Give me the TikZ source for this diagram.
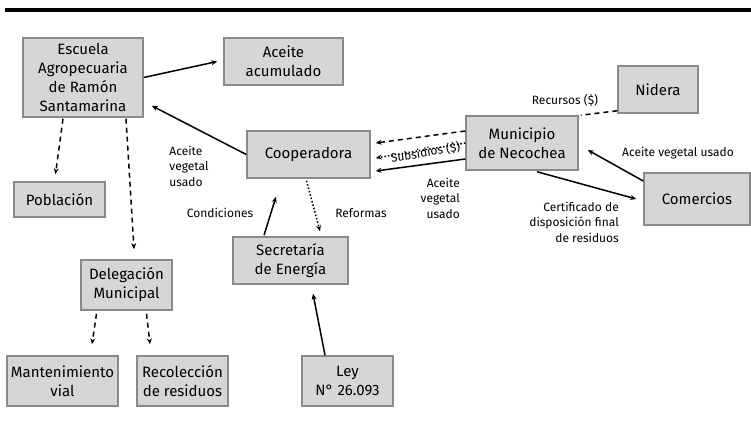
\documentclass[tikz,border=0pt]{standalone}
\usepackage{fontspec}
\setmainfont{Fira Sans}
\usetikzlibrary{arrows.meta}
\definecolor{boxfill}{HTML}{D6D6D8}
\definecolor{boxline}{HTML}{8A8A8A}
\begin{document}
\begin{tikzpicture}[x=1pt,y=-1pt,
    box/.style={draw=boxline,line width=1.5pt,fill=boxfill,align=center,inner sep=0pt,
      font=\fontsize{15}{19}\selectfont},
    lbl/.style={inner sep=0pt,font=\fontsize{12}{15.5}\selectfont},
    dashedline/.style={dash pattern=on 5pt off 4pt},
    dottedline/.style={dash pattern=on 1.5pt off 2pt}]
  \useasboundingbox (0,0) rectangle (751,435);
  \draw[line width=3.5pt] (5,10) -- (751,10);
  \path
    (83,77.5) node[box,minimum width=120,minimum height=79] (esc) {Escuela\\Agropecuaria\\de Ramón\\Santamarina}
    (283.5,61.5) node[box,minimum width=119,minimum height=47] (acu) {Aceite\\acumulado}
    (308.5,154.5) node[box,minimum width=123,minimum height=47] (coop) {Cooperadora}
    (59.5,199.5) node[box,minimum width=91,minimum height=35] (pob) {Población}
    (126.5,285) node[box,minimum width=91,minimum height=50] (dele) {Delegación\\Municipal}
    (62.5,381) node[box,minimum width=111,minimum height=50] (mant) {Mantenimiento\\vial}
    (182.5,381) node[box,minimum width=91,minimum height=50] (reco) {Recolección\\de residuos}
    (290.5,260.5) node[box,minimum width=115,minimum height=47] (sec) {Secretaría\\de Energía}
    (347.5,381) node[box,minimum width=91,minimum height=50] (ley) {Ley\\N° 26.093}
    (658,89.5) node[box,minimum width=80,minimum height=47] (nid) {Nidera}
    (522,143) node[box,minimum width=112,minimum height=54] (mun) {Municipio\\de Necochea}
    (697,199) node[box,minimum width=106,minimum height=52] (com) {Comercios};
  \path
    (189,166) node[lbl,align=left] (usado1) {Aceite\\vegetal\\usado}
    (220,213) node[lbl] (cond) {Condiciones}
    (361,213) node[lbl] (refo) {Reformas}
    (565,100) node[lbl] (recu) {Recursos (\$)}
    (460,198) node[lbl,align=right,anchor=east] (usado2) {Aceite\\vegetal\\usado}
    (678,153) node[lbl] (usado3) {Aceite vegetal usado}
    (619,222) node[lbl,align=right,anchor=east] (certi) {Certificado de\\disposición final\\de residuos};
  \begin{scope}[-{Stealth[length=6pt,width=5pt]},line width=1.5pt]
    \draw (esc.east) -- ([shift={(-6,0)}]acu.west);
    \draw (coop.west) -- ([shift={(8,-12)}]esc.south east);
    \draw[dashedline] ([shift={(-20,1)}]esc.south) -- ([shift={(-4,-7)}]pob.north);
    \draw[dashedline] ([shift={(43,1)}]esc.south) -- ([shift={(7.5,-10)}]dele.north);
    \draw[dashedline] ([shift={(-30,3)}]dele.south) -- ([shift={(29.5,-11)}]mant.north);
    \draw[dashedline] ([shift={(20,3)}]dele.south) -- ([shift={(-32.5,-11)}]reco.north);
    \draw[dottedline] ([shift={(-2,2)}]coop.south) -- ([shift={(29.5,-5)}]sec.north);
    \draw ([shift={(-26.5,-1)}]sec.north) -- ([shift={(-32.5,18)}]coop.south);
    \draw ([shift={(-22.5,0)}]ley.north) -- ([shift={(22.5,9)}]sec.south);
    \draw[dashedline] ([shift={(0,-12)}]mun.west) -- ([shift={(5,-11.5)}]coop.east);
    \draw[dottedline] (mun.west) -- ([shift={(5,3.5)}]coop.east)
      node[lbl,pos=0.45,sloped,yshift=-3pt] (subs) {Subsidios (\$)};
    \draw ([shift={(0,16)}]mun.west) -- ([shift={(5,16.5)}]coop.east);
    \draw ([shift={(0,-18)}]com.west) -- ([shift={(9,7)}]mun.east);
    \draw ([shift={(15,1)}]mun.south) -- ([shift={(-7,0)}]com.west);
  \end{scope}
  \draw[dashedline,line width=1.5pt] ([shift={(0,-3)}]nid.south west) -- ([shift={(2,0)}]mun.north east);
\end{tikzpicture}
\end{document}
